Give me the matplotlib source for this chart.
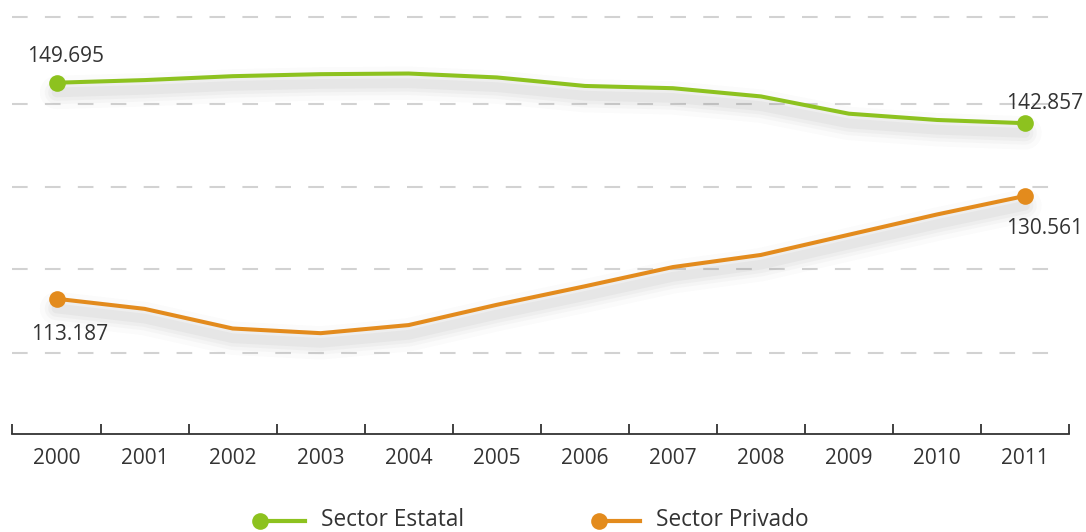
import matplotlib
matplotlib.use("Agg")
from matplotlib import pyplot as plt
from matplotlib import transforms
from matplotlib.lines import Line2D

years = ["2000", "2001", "2002", "2003", "2004", "2005",
         "2006", "2007", "2008", "2009", "2010", "2011"]
estatal = [149.695, 150.14, 150.80, 151.14, 151.25, 150.59,
           149.15, 148.77, 147.38, 144.46, 143.40, 142.857]
privado = [113.187, 111.48, 108.16, 107.37, 108.74, 112.16,
           115.29, 118.54, 120.59, 124.01, 127.43, 130.561]
grid_levels = [104.0, 118.2, 132.1, 146.1, 160.8]

GREEN = "#8dc21f"
ORANGE = "#e38b1d"
TEXT = "#333333"

plt.rcParams["font.family"] = ["Open Sans", "DejaVu Sans"]

fig = plt.figure(figsize=(10.86, 5.32), dpi=100)
ax = fig.add_axes([0.0115, 0.1842, 0.9729, 0.8064])
x = list(range(len(years)))

ax.set_xlim(-0.5, 11.5)
ax.set_ylim(90.33, 162.83)

# dashed guide lines
for g in grid_levels:
    ax.plot([-0.5, 11.3], [g, g], color="#d2d2d2", lw=1.5,
            dashes=(7.5, 8.3), zorder=1)


def soft_shadow(xs, ys):
    # stack of wide, faint, shifted copies to fake a blurred drop shadow
    for w, a in [(24, 0.025), (17, 0.03), (12, 0.04), (7, 0.05)]:
        off = transforms.offset_copy(ax.transData, fig=fig, x=0, y=-7, units="points")
        ax.plot(xs, ys, color="#555555", lw=w, alpha=a, transform=off,
                solid_capstyle="round", zorder=2)


for series, color in [(estatal, GREEN), (privado, ORANGE)]:
    soft_shadow(x, series)
    ax.plot(x, series, color=color, lw=2.9, zorder=3, solid_joinstyle="round")
    ax.plot([x[0], x[-1]], [series[0], series[-1]], "o", color=color,
            ms=12, mec="none", zorder=4)

fmt = lambda v: f"{v:.3f}"
ax.annotate(fmt(estatal[0]), (x[0], estatal[0]), xytext=(-29, 26),
            textcoords="offset pixels", fontsize=15, color=TEXT, va="center")
ax.annotate(fmt(estatal[-1]), (x[-1], estatal[-1]), xytext=(-19, 20),
            textcoords="offset pixels", fontsize=15, color=TEXT, va="center")
ax.annotate(fmt(privado[0]), (x[0], privado[0]), xytext=(-25, -36),
            textcoords="offset pixels", fontsize=15, color=TEXT, va="center")
ax.annotate(fmt(privado[-1]), (x[-1], privado[-1]), xytext=(-19, -33),
            textcoords="offset pixels", fontsize=15, color=TEXT, va="center")

# category axis with ticks between the years
for side in ["top", "right", "left"]:
    ax.spines[side].set_visible(False)
ax.spines["bottom"].set_color(TEXT)
ax.spines["bottom"].set_linewidth(1.3)
ax.set_yticks([])
ax.set_xticks([i - 0.5 for i in range(len(years) + 1)])
ax.set_xticklabels([])
ax.set_xticks(x, minor=True)
ax.set_xticklabels(years, minor=True, fontsize=15, color=TEXT)
ax.tick_params(axis="x", which="major", direction="in", length=7,
               width=1.3, color=TEXT)
ax.tick_params(axis="x", which="minor", length=0, pad=10)

# legend along the bottom edge
W, H = 1086, 532
for x0, x1, color, label in [(260, 305, GREEN, "Sector Estatal"),
                             (599, 640, ORANGE, "Sector Privado")]:
    yc = 1 - 521 / H
    fig.add_artist(Line2D([x0 / W, x1 / W], [yc, yc], color=color, lw=3,
                          transform=fig.transFigure))
    fig.add_artist(Line2D([x0 / W], [yc], marker="o", ms=12, mec="none",
                          color=color, transform=fig.transFigure))
    fig.text((x1 + 16) / W, yc + 1 / H, label, fontsize=16.3, color=TEXT,
             va="center")

fig.savefig("out.png", dpi=100, facecolor="white")
